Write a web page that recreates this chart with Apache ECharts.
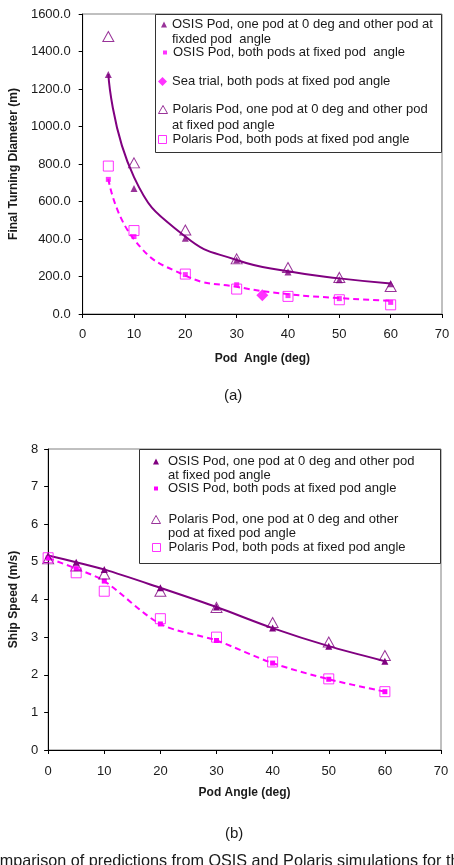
<!DOCTYPE html>
<html>
<head>
<meta charset="utf-8">
<script src="https://cdn.jsdelivr.net/npm/echarts@6/dist/echarts.min.js"></script>
<style>
  html, body { margin: 0; padding: 0; background: #fff; }
  #main { width: 454px; height: 865px; }
</style>
</head>
<body>
<div id="main"></div>
<script>
// (a) final turning diameter
const angleA = [5, 10, 20, 30, 40, 50, 60];
const osisOneA = [1278, 670, 404, 288, 224, 183, 162];
const osisBothA = [718, 413, 210, 156, 98, 82, 62];
const polarisOneA = [1480, 806, 448, 294, 248, 195, 147];
const polarisBothA = [789, 445, 213, 133, 94, 76, 49];
const seaTrialAngle = [35];
const seaTrialA = [100];
// fitted curves at the same angles
const trendOneA = [1280, 730, 413, 288, 228, 190, 163];
const trendBothA = [720, 398, 205, 145, 106, 85, 70];
const ticksA = [0, 200, 400, 600, 800, 1000, 1200, 1400, 1600];

// (b) ship speed
const angleB = [0, 5, 10, 20, 30, 40, 50, 60];
const osisOneB = [5.17, 4.99, 4.8, 4.31, 3.8, 3.24, 2.76, 2.36];
const osisBothB = [5.1, 4.82, 4.49, 3.35, 2.91, 2.31, 1.88, 1.55];
const polarisOneB = [5.08, 4.89, 4.68, 4.22, 3.79, 3.39, 2.87, 2.51];
const polarisBothB = [5.11, 4.71, 4.22, 3.49, 3.0, 2.34, 1.89, 1.55];

const legendTextA = {
  a1: ["OSIS Pod, one pod at 0 deg and other pod at", "fixded pod  angle"],
  a2: ["OSIS Pod, both pods at fixed pod  angle"],
  a3: ["Sea trial, both pods at fixed pod angle"],
  a4: ["Polaris Pod, one pod at 0 deg and other pod", "at fixed pod angle"],
  a5: ["Polaris Pod, both pods at fixed pod angle"],
};
const legendTextB = {
  b1: ["OSIS Pod, one pod at 0 deg and other pod", "at fixed pod angle"],
  b2: ["OSIS Pod, both pods at fixed pod angle"],
  b3: ["Polaris Pod, one pod at 0 deg and other", "pod at fixed pod angle"],
  b4: ["Polaris Pod, both pods at fixed pod angle"],
};

const PURPLE = "#800080";
const MAGENTA = "#FF00FF";
const FONT = "Liberation Sans, Arial, sans-serif";
const TEXT = "#1a1a1a";

function pairs(xs, ys) {
  return xs.map((x, i) => [x, ys[i]]);
}

function axisCommon(labelMargin) {
  return {
    axisLine: { show: true, lineStyle: { color: "#000", width: 1 } },
    axisTick: { show: true, inside: false, length: 4, lineStyle: { color: "#000" } },
    splitLine: { show: false },
    axisLabel: { color: TEXT, fontSize: 13, fontFamily: FONT, margin: labelMargin },
    nameTextStyle: { color: TEXT, fontSize: 12, fontWeight: "bold", fontFamily: FONT },
  };
}

function legendItem(key, texts, left, top, icon, w, h, style, padLeft) {
  const c = style.borderColor || style.color;
  return {
    show: true,
    left: left,
    top: top,
    padding: 0,
    orient: "horizontal",
    selectedMode: false,
    inactiveColor: c,
    inactiveBorderColor: c,
    itemWidth: w,
    itemHeight: h,
    itemGap: 0,
    data: [{ name: key, icon: icon, itemStyle: style }],
    formatter: function (name) {
      return texts[name][0];
    },
    textStyle: { color: TEXT, fontSize: 13, fontFamily: FONT, lineHeight: 15, padding: [0, 0, 0, padLeft || 0] },
  };
}

const filled = (c) => ({ color: c, borderWidth: 0 });
const hollow = (c) => ({ color: "#fff", borderColor: c, borderWidth: 1 });
const line2 = (text, x, y) => ({
  type: "text", left: x, top: y, z: 5,
  style: { text: text, fill: TEXT, font: "13px " + FONT },
});

const chart = echarts.init(document.getElementById("main"));

chart.setOption({
  animation: false,
  backgroundColor: "#fff",
  grid: [
    { left: 78, top: 14, width: 364, height: 300, show: true, borderColor: "#808080", borderWidth: 1, backgroundColor: "#fff" },
    { left: 43, top: 449, width: 398, height: 301, show: true, borderColor: "#808080", borderWidth: 1, backgroundColor: "#fff" },
  ],
  xAxis: [
    Object.assign(axisCommon(14), {
      gridIndex: 0, type: "value", min: 0, max: 70, interval: 10,
      name: "Pod  Angle (deg)", nameLocation: "middle", nameGap: 39,
    }),
    Object.assign(axisCommon(15), {
      gridIndex: 1, type: "value", min: 0, max: 70, interval: 10,
      name: "Pod Angle (deg)", nameLocation: "middle", nameGap: 37,
    }),
  ],
  yAxis: [
    Object.assign(axisCommon(12), {
      gridIndex: 0, type: "value", min: ticksA[0], max: ticksA[ticksA.length - 1], interval: 200,
      name: "Final Turning Diameter (m)", nameLocation: "middle", nameGap: 62,
    }),
    Object.assign(axisCommon(10), {
      gridIndex: 1, type: "value", min: 0, max: 8, interval: 1,
      name: "Ship Speed (m/s)", nameLocation: "middle", nameGap: 27,
    }),
  ],
  legend: [
    legendItem("a1", legendTextA, 161, 17, "triangle", 6, 6, filled(PURPLE)),
    legendItem("a2", legendTextA, 163, 45, "rect", 4, 4, filled(MAGENTA), 1),
    legendItem("a3", legendTextA, 158, 74, "diamond", 9, 9, filled(MAGENTA)),
    legendItem("a4", legendTextA, 158, 102, "triangle", 9, 8, hollow(PURPLE)),
    legendItem("a5", legendTextA, 158, 132, "rect", 8, 8, hollow(MAGENTA), 1),
    legendItem("b1", legendTextB, 153, 454, "triangle", 6, 6, filled(PURPLE), 4),
    legendItem("b2", legendTextB, 154, 481, "rect", 4, 4, filled(MAGENTA), 5),
    legendItem("b3", legendTextB, 151, 512, "triangle", 9, 8, hollow(PURPLE), 3),
    legendItem("b4", legendTextB, 152, 540, "rect", 8, 8, hollow(MAGENTA), 3),
  ],
  graphic: [
    // legend frames and wrapped second lines
    { type: "rect", shape: { x: 155.5, y: 14.5, width: 286, height: 138 }, style: { fill: "#fff", stroke: "#333", lineWidth: 1 }, z: 1 },
    { type: "rect", shape: { x: 139.5, y: 449.5, width: 301, height: 114 }, style: { fill: "#fff", stroke: "#333", lineWidth: 1 }, z: 1 },
    line2(legendTextA.a1[1], 172, 33),
    line2(legendTextA.a4[1], 172, 119),
    line2(legendTextB.b1[1], 168, 469),
    line2(legendTextB.b3[1], 168, 527),
    // captions
    { type: "text", left: 224, top: 388, style: { text: "(a)", fill: TEXT, font: "15px " + FONT } },
    { type: "text", left: 225, top: 826, style: { text: "(b)", fill: TEXT, font: "15px " + FONT } },
    { type: "text", left: -21, top: 854, style: { text: "Comparison of predictions from OSIS and Polaris simulations for the", fill: TEXT, font: "16.2px " + FONT } },
  ],
  series: [
    {
      name: "trendOneA", type: "line", xAxisIndex: 0, yAxisIndex: 0,
      data: pairs(angleA, trendOneA), smooth: 0.5,
      showSymbol: false, z: 3, silent: true,
      lineStyle: { color: PURPLE, width: 2 },
    },
    {
      name: "trendBothA", type: "line", xAxisIndex: 0, yAxisIndex: 0,
      data: pairs(angleA, trendBothA), smooth: 0.5,
      showSymbol: false, z: 3, silent: true,
      lineStyle: { color: MAGENTA, width: 2, type: [6, 4] },
    },
    {
      name: "a1", type: "scatter", xAxisIndex: 0, yAxisIndex: 0,
      data: pairs(angleA, osisOneA),
      symbol: "triangle", symbolSize: 7, z: 4,
      itemStyle: { color: PURPLE },
    },
    {
      name: "a2", type: "scatter", xAxisIndex: 0, yAxisIndex: 0,
      data: pairs(angleA, osisBothA),
      symbol: "rect", symbolSize: 5, z: 4,
      itemStyle: { color: MAGENTA },
    },
    {
      name: "a3", type: "scatter", xAxisIndex: 0, yAxisIndex: 0,
      data: pairs(seaTrialAngle, seaTrialA),
      symbol: "diamond", symbolSize: 12, z: 5,
      itemStyle: { color: MAGENTA },
    },
    {
      name: "a4", type: "scatter", xAxisIndex: 0, yAxisIndex: 0,
      data: pairs(angleA, polarisOneA),
      symbol: "triangle", symbolSize: [11, 10], z: 5,
      itemStyle: { color: "rgba(0,0,0,0)", borderColor: PURPLE, borderWidth: 1 },
    },
    {
      name: "a5", type: "scatter", xAxisIndex: 0, yAxisIndex: 0,
      data: pairs(angleA, polarisBothA),
      symbol: "rect", symbolSize: 10, z: 5,
      itemStyle: { color: "rgba(0,0,0,0)", borderColor: MAGENTA, borderWidth: 1 },
    },
    {
      name: "b1", type: "line", xAxisIndex: 1, yAxisIndex: 1,
      data: pairs(angleB, osisOneB), smooth: 0.3,
      symbol: "triangle", symbolSize: 7, z: 4,
      itemStyle: { color: PURPLE },
      lineStyle: { color: PURPLE, width: 2 },
    },
    {
      name: "b2", type: "line", xAxisIndex: 1, yAxisIndex: 1,
      data: pairs(angleB, osisBothB), smooth: 0.3,
      symbol: "rect", symbolSize: 5, z: 4,
      itemStyle: { color: MAGENTA },
      lineStyle: { color: MAGENTA, width: 2, type: [6, 4] },
    },
    {
      name: "b3", type: "scatter", xAxisIndex: 1, yAxisIndex: 1,
      data: pairs(angleB, polarisOneB),
      symbol: "triangle", symbolSize: [11, 10], z: 5,
      itemStyle: { color: "rgba(0,0,0,0)", borderColor: PURPLE, borderWidth: 1 },
    },
    {
      name: "b4", type: "scatter", xAxisIndex: 1, yAxisIndex: 1,
      data: pairs(angleB, polarisBothB),
      symbol: "rect", symbolSize: 10, z: 5,
      itemStyle: { color: "rgba(0,0,0,0)", borderColor: MAGENTA, borderWidth: 1 },
    },
  ],
});

// y labels of (a) keep one decimal
chart.setOption({
  yAxis: [
    { axisLabel: { formatter: (v) => v.toFixed(1) } },
    {},
  ],
});
</script>
</body>
</html>
